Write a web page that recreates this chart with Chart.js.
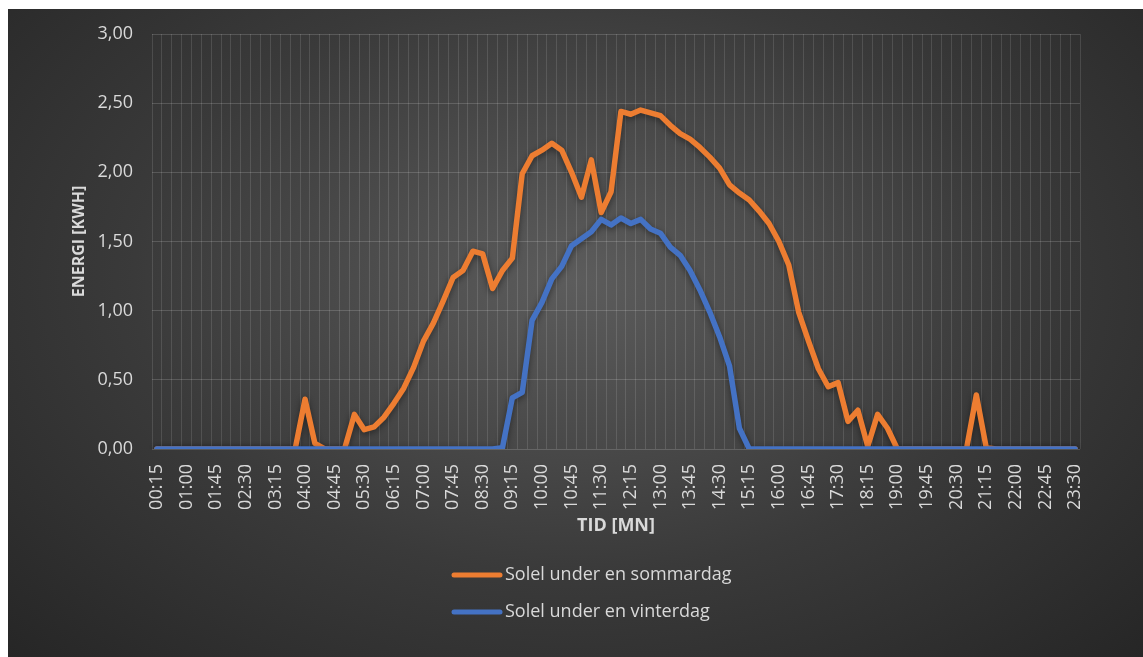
<!DOCTYPE html>
<html>
<head>
<meta charset="utf-8">
<script src="https://cdn.jsdelivr.net/npm/chart.js@4.4.1/dist/chart.umd.min.js"></script>
<style>
  html, body { margin: 0; padding: 0; background: #fff; }
  #wrap {
    position: absolute; left: 8px; top: 9px; width: 1135px; height: 648px;
    background: radial-gradient(ellipse at 50% 42%, #5c5c5c 0%, #3a3a3a 55%, #262626 100%);
  }
</style>
</head>
<body>
<div id="wrap"><canvas id="solChart" width="1135" height="648"></canvas></div>
<script>
// time of day, every 15 minutes
var times = [
  '00:15','00:30','00:45','01:00','01:15','01:30','01:45','02:00','02:15','02:30',
  '02:45','03:00','03:15','03:30','03:45','04:00','04:15','04:30','04:45','05:00',
  '05:15','05:30','05:45','06:00','06:15','06:30','06:45','07:00','07:15','07:30',
  '07:45','08:00','08:15','08:30','08:45','09:00','09:15','09:30','09:45','10:00',
  '10:15','10:30','10:45','11:00','11:15','11:30','11:45','12:00','12:15','12:30',
  '12:45','13:00','13:15','13:30','13:45','14:00','14:15','14:30','14:45','15:00',
  '15:15','15:30','15:45','16:00','16:15','16:30','16:45','17:00','17:15','17:30',
  '17:45','18:00','18:15','18:30','18:45','19:00','19:15','19:30','19:45','20:00',
  '20:15','20:30','20:45','21:00','21:15','21:30','21:45','22:00','22:15','22:30',
  '22:45','23:00','23:15','23:30'
];

// kWh, summer day
var sommar = [
  0, 0, 0, 0, 0, 0, 0, 0, 0, 0,
  0, 0, 0, 0, 0, 0.36, 0.04, 0, 0, 0,
  0.25, 0.14, 0.16, 0.23, 0.33, 0.44, 0.59, 0.78, 0.91, 1.07,
  1.24, 1.29, 1.43, 1.41, 1.16, 1.29, 1.38, 1.99, 2.12, 2.16,
  2.21, 2.16, 2.00, 1.82, 2.09, 1.71, 1.86, 2.44, 2.42, 2.45,
  2.43, 2.41, 2.34, 2.28, 2.24, 2.18, 2.11, 2.03, 1.91, 1.85,
  1.80, 1.72, 1.63, 1.50, 1.33, 0.99, 0.78, 0.58, 0.45, 0.48,
  0.20, 0.28, 0.02, 0.25, 0.15, 0, 0, 0, 0, 0,
  0, 0, 0, 0.39, 0.01, 0, 0, 0, 0, 0,
  0, 0, 0, 0
];

// kWh, winter day
var vinter = [
  0, 0, 0, 0, 0, 0, 0, 0, 0, 0,
  0, 0, 0, 0, 0, 0, 0, 0, 0, 0,
  0, 0, 0, 0, 0, 0, 0, 0, 0, 0,
  0, 0, 0, 0, 0, 0.01, 0.37, 0.41, 0.93, 1.06,
  1.23, 1.32, 1.47, 1.52, 1.57, 1.66, 1.62, 1.67, 1.63, 1.66,
  1.59, 1.56, 1.46, 1.40, 1.29, 1.15, 0.99, 0.81, 0.60, 0.15,
  0, 0, 0, 0, 0, 0, 0, 0, 0, 0,
  0, 0, 0, 0, 0, 0, 0, 0, 0, 0,
  0, 0, 0, 0, 0, 0, 0, 0, 0, 0,
  0, 0, 0, 0
];

var seriesNames = ['Solel under en sommardag', 'Solel under en vinterdag'];
var seriesColors = ['#ED7D31', '#4472C4'];

var textColor = '#d9d9d9';
Chart.defaults.font.family = '"Open Sans", sans-serif';
Chart.defaults.color = textColor;

// soft shadow under the lines, like the office style
var lineShadow = {
  id: 'lineShadow',
  beforeDatasetsDraw: function(chart) {
    var c = chart.ctx;
    c.save();
    c.shadowColor = 'rgba(0,0,0,0.45)';
    c.shadowBlur = 6;
    c.shadowOffsetY = 2;
  },
  afterDatasetsDraw: function(chart) {
    chart.ctx.restore();
  }
};

// legend stacked in one column under the axis title
var stackedLegend = {
  id: 'stackedLegend',
  afterDraw: function(chart) {
    var c = chart.ctx;
    c.save();
    c.font = '18px "Open Sans", sans-serif';
    c.textBaseline = 'middle';
    c.textAlign = 'left';
    chart.data.datasets.forEach(function(ds, i) {
      var y = 566 + i * 37;
      c.strokeStyle = ds.borderColor;
      c.lineWidth = 5;
      c.lineCap = 'round';
      c.beginPath();
      c.moveTo(446, y);
      c.lineTo(492, y);
      c.stroke();
      c.fillStyle = textColor;
      c.fillText(ds.label, 497, y);
    });
    c.restore();
  }
};

var ctx = document.getElementById('solChart').getContext('2d');
var chart = new Chart(ctx, {
  type: 'line',
  data: {
    labels: times,
    datasets: [
      {
        label: seriesNames[0],
        data: sommar,
        order: 1,
        borderColor: seriesColors[0],
        backgroundColor: seriesColors[0],
        borderWidth: 5.5,
        pointRadius: 0,
        tension: 0,
        borderJoinStyle: 'round',
        borderCapStyle: 'round'
      },
      {
        label: seriesNames[1],
        data: vinter,
        order: 0,
        borderColor: seriesColors[1],
        backgroundColor: seriesColors[1],
        borderWidth: 5.5,
        pointRadius: 0,
        tension: 0,
        borderJoinStyle: 'round',
        borderCapStyle: 'round'
      }
    ]
  },
  options: {
    responsive: false,
    animation: false,
    layout: { padding: { left: 0, top: 25, right: 63, bottom: 109 } },
    plugins: {
      legend: { display: false },
      tooltip: { enabled: false }
    },
    scales: {
      x: {
        offset: true,
        grid: { offset: true, color: 'rgba(255,255,255,0.12)', drawTicks: false },
        border: { display: false },
        ticks: {
          autoSkip: false,
          maxRotation: 90,
          minRotation: 90,
          padding: 15,
          font: { size: 18 },
          callback: function(v, i) { return i % 3 === 0 ? times[i] : ''; }
        },
        title: {
          display: true,
          text: 'TID [MN]',
          font: { size: 18, weight: 'bold' },
          padding: { top: 0, bottom: 11 }
        },
        afterFit: function(s) { s.height = 99; }
      },
      y: {
        min: 0,
        max: 3,
        grid: {
          color: 'rgba(255,255,255,0.16)',
          drawTicks: true,
          tickLength: 19,
          tickColor: 'rgba(0,0,0,0)'
        },
        border: { display: false },
        ticks: {
          stepSize: 0.5,
          padding: 0,
          font: { size: 18 },
          callback: function(v) { return v.toFixed(2).replace('.', ','); }
        },
        title: {
          display: true,
          text: 'ENERGI [KWH]',
          font: { size: 16, weight: 'bold' },
          padding: { top: 62, bottom: 0 }
        },
        afterFit: function(s) { s.width = 144; }
      }
    }
  },
  plugins: [lineShadow, stackedLegend]
});
</script>
</body>
</html>
